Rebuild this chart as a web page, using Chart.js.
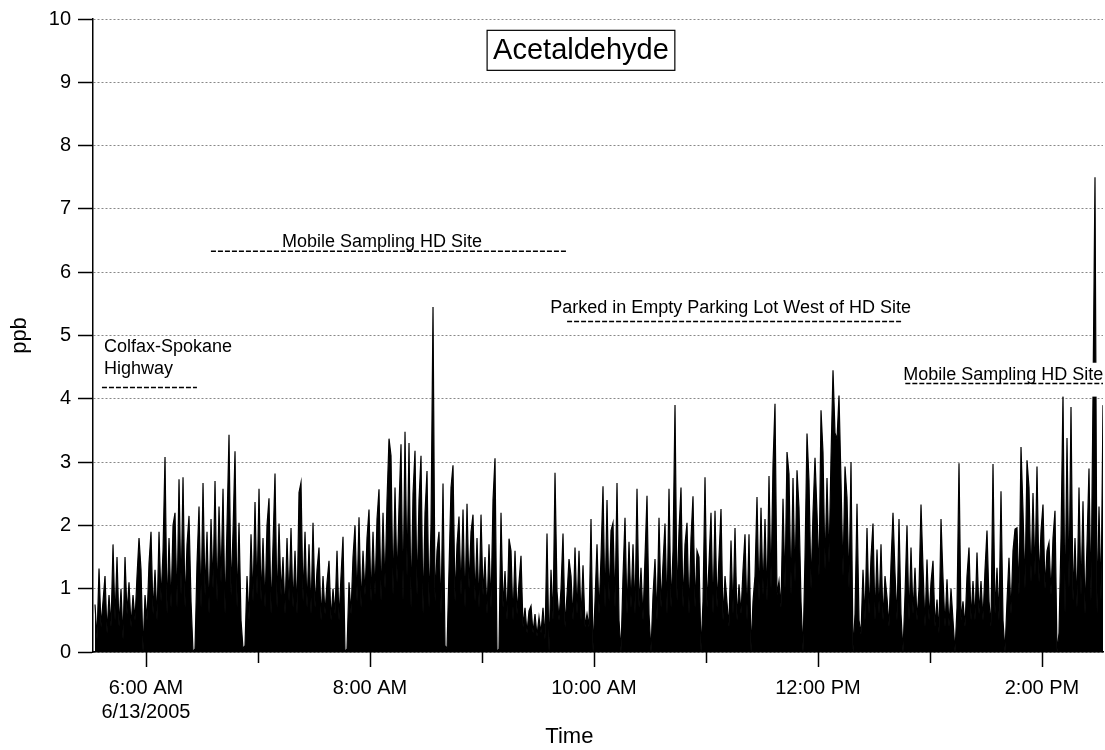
<!DOCTYPE html>
<html>
<head>
<meta charset="utf-8">
<script src="https://cdn.jsdelivr.net/npm/chart.js@4/dist/chart.umd.min.js"></script>
<style>
html, body { margin: 0; padding: 0; background: #fff; }
#wrap { width: 1105px; height: 750px; }
</style>
</head>
<body>
<div id="wrap"><canvas id="chart" width="1105" height="750"></canvas></div>
<script>
// sampling: first point ~5:32 AM, one reading about every 64 s
var startHour = 5.545;
var stepHours = 1 / 56;

// acetaldehyde, ppb
var ppb = [
    0.75,0.2,1.32,0.4,0.8,1.2,0.3,0.9,0.4,1.7,
    0.5,1.5,0.4,1.0,0.2,1.5,0.6,1.1,0.4,0.9,
    0.5,1.2,1.8,1.3,0.0,0.9,0.5,1.4,1.9,0.6,
    1.3,0.5,1.9,0.8,1.6,3.08,0.6,1.8,0.7,2.0,
    2.2,0.7,2.73,0.9,2.76,0.7,1.7,2.15,0.8,0.0,
    0.05,1.4,2.3,0.7,2.67,0.9,1.9,0.6,2.1,1.0,
    2.7,0.8,2.3,1.1,2.58,0.6,2.0,3.43,0.9,1.9,
    3.17,0.7,2.04,0.5,0.05,0.1,1.2,0.5,1.86,0.8,
    2.37,0.9,2.58,0.8,1.8,0.7,2.0,2.43,0.6,1.7,
    2.82,0.7,2.03,0.9,1.5,0.6,1.8,0.8,1.96,0.7,
    1.6,0.6,2.52,2.68,0.8,1.9,0.7,1.7,0.6,2.04,
    0.7,1.3,1.65,0.5,1.2,0.6,1.1,1.44,0.5,1.0,
    0.6,1.6,0.5,1.2,1.82,0.0,0.05,1.1,0.6,1.5,
    2.0,0.8,2.13,0.7,1.6,0.9,1.8,2.25,0.8,1.9,
    0.9,2.1,2.57,0.8,2.2,1.0,2.4,3.37,3.1,0.9,
    2.6,1.1,2.3,3.28,0.8,3.48,1.2,3.3,0.7,2.5,
    3.18,0.9,2.4,3.1,0.6,2.2,2.86,0.7,2.0,5.45,
    0.8,1.6,1.9,0.6,2.66,0.1,0.05,1.3,2.6,2.95,
    0.8,1.7,2.14,0.9,2.25,0.7,2.34,1.0,1.9,2.17,
    0.8,1.8,0.7,2.17,0.9,1.5,0.6,1.7,0.7,2.4,
    3.06,0.0,0.05,2.2,0.7,1.28,0.5,1.79,1.6,0.5,
    1.6,0.6,1.1,1.52,0.4,0.7,0.3,0.65,0.73,0.3,
    0.6,0.25,0.55,0.3,0.7,0.2,1.87,0.0,1.3,0.5,
    2.83,0.96,0.5,1.0,1.87,0.4,0.9,1.47,1.2,0.5,
    1.65,0.6,1.6,0.5,1.37,0.4,0.6,0.4,2.1,0.0,
    0.8,1.7,0.6,1.5,2.62,0.7,2.4,0.8,1.92,2.04,
    0.7,2.67,0.5,0.0,1.2,2.12,0.6,1.74,0.7,1.7,
    0.6,2.58,0.7,1.33,0.5,1.5,2.47,0.6,0.0,0.9,
    1.47,0.5,2.12,0.7,1.4,2.03,0.6,2.58,0.7,1.6,
    3.9,0.8,1.92,2.6,0.7,1.7,2.04,0.6,1.8,2.46,
    0.7,1.6,1.5,0.0,0.8,2.76,0.7,1.4,2.2,0.6,
    2.23,0.7,1.5,2.26,0.5,1.2,0.78,0.4,1.76,0.6,
    1.96,0.5,1.07,0.6,1.3,1.86,0.5,1.86,0.0,0.8,
    1.2,2.45,0.8,2.28,0.9,2.1,0.8,2.78,1.0,2.96,
    3.92,0.9,1.12,0.7,2.42,1.0,3.16,2.81,0.9,2.75,
    1.1,2.87,2.28,0.8,0.0,1.5,3.45,2.7,1.0,2.2,
    3.07,2.2,1.2,3.82,3.15,1.3,2.75,1.4,3.07,4.45,
    3.46,3.36,4.05,2.7,1.2,2.93,2.44,1.0,3.0,0.0,
    0.6,2.34,0.5,0.28,1.3,0.5,1.96,0.6,1.5,2.03,
    0.5,1.62,0.6,1.7,0.5,1.2,0.86,0.4,1.4,2.2,
    1.25,0.5,2.1,0.6,0.0,0.9,2.0,0.5,1.65,0.6,
    1.33,0.5,1.0,2.33,1.33,0.4,1.46,0.5,1.1,1.44,
    0.4,0.83,0.3,2.1,1.17,0.4,1.15,0.4,1.0,0.5,
    0.0,0.7,2.98,0.5,0.8,0.4,1.2,1.65,0.5,1.12,
    0.5,1.57,0.6,1.12,0.5,1.3,1.92,0.8,0.4,2.97,
    0.6,1.33,0.5,2.54,0.5,0.0,0.8,1.49,0.6,1.6,
    1.94,1.96,0.9,3.24,2.23,1.0,3.03,2.6,1.1,2.51,
    1.2,2.93,1.1,1.91,2.33,1.0,1.6,1.73,0.9,1.8,
    2.23,0.0,0.3,1.8,4.08,0.6,3.38,1.0,3.87,0.8,
    1.8,0.7,2.6,0.9,2.38,0.6,1.7,2.9,0.8,4.05,
    7.5,0.6,2.3,0.8,3.9
];

// x axis: hours of day
var hourTicks = [6, 7, 8, 9, 10, 11, 12, 13, 14];
var hourLabels = { 6: ['6:00 AM', '6/13/2005'], 8: '8:00 AM', 10: '10:00 AM', 12: '12:00 PM', 14: '2:00 PM' };
var ppbTicks = [0, 1, 2, 3, 4, 5, 6, 7, 8, 9, 10];

// text notes on the plot, placed in data units
var notes = [
    { lines: ['Colfax-Spokane', 'Highway'], x: 5.625, y: 4.81, align: 'left', from: 5.607, to: 6.455, dashY: 4.18 },
    { lines: ['Mobile Sampling HD Site'], x: 8.107, y: 6.48, align: 'center', from: 6.58, to: 9.75, dashY: 6.33 },
    { lines: ['Parked in Empty Parking Lot West of HD Site'], x: 11.22, y: 5.43, align: 'center', from: 9.76, to: 12.75, dashY: 5.22 },
    { lines: ['Mobile Sampling HD Site'], x: 13.655, y: 4.38, align: 'center', from: 12.78, to: 14.545, dashY: 4.24, erase: true }
];

var FONT = '"Liberation Sans", Arial, sans-serif';

var points = ppb.map(function(v, i) {
    return { x: startHour + i * stepHours, y: v };
});

var decor = {
    id: 'decor',
    afterDatasetsDraw: function(chart) {
        var ctx = chart.ctx;
        var xs = chart.scales.x, ys = chart.scales.y;
        var area = chart.chartArea;
        ctx.save();

        // hour ticks below the axis, longer on labelled hours
        ctx.strokeStyle = '#000';
        ctx.lineWidth = 1.5;
        hourTicks.forEach(function(h) {
            var px = Math.round(xs.getPixelForValue(h)) + 0.5;
            var len = h % 2 === 0 ? 15 : 11;
            ctx.beginPath();
            ctx.moveTo(px, area.bottom);
            ctx.lineTo(px, area.bottom + len);
            ctx.stroke();
        });

        // notes
        ctx.font = '18px ' + FONT;
        ctx.textBaseline = 'middle';
        notes.forEach(function(n) {
            var tx = xs.getPixelForValue(n.x);
            var ty = ys.getPixelForValue(n.y);
            var x1 = xs.getPixelForValue(n.from), x2 = xs.getPixelForValue(n.to);
            var dy = ys.getPixelForValue(n.dashY);
            if (n.erase) {
                ctx.fillStyle = '#fff';
                ctx.fillRect(x1 - 4, ty - 12, x2 - x1 + 4, dy - ty + 25);
            }
            ctx.fillStyle = '#000';
            ctx.textAlign = n.align;
            n.lines.forEach(function(t, k) {
                ctx.fillText(t, tx, ty + k * 22);
            });
            ctx.setLineDash([5, 2]);
            ctx.lineWidth = 1.5;
            ctx.beginPath();
            ctx.moveTo(x1, dy);
            ctx.lineTo(x2, dy);
            ctx.stroke();
            ctx.setLineDash([]);
        });

        // boxed title
        ctx.font = '29px ' + FONT;
        ctx.textAlign = 'center';
        var cx = xs.getPixelForValue(9.884), cy = ys.getPixelForValue(9.505);
        var w = ctx.measureText('Acetaldehyde').width + 12;
        ctx.fillStyle = '#fff';
        ctx.fillRect(cx - w / 2, cy - 20, w, 40);
        ctx.strokeStyle = '#000';
        ctx.lineWidth = 1.2;
        ctx.strokeRect(cx - w / 2, cy - 20, w, 40);
        ctx.fillStyle = '#000';
        ctx.fillText('Acetaldehyde', cx, cy + 1);

        // x axis title
        ctx.font = '22px ' + FONT;
        ctx.fillText('Time', xs.getPixelForValue(9.78), 737);
        ctx.restore();
    }
};

new Chart(document.getElementById('chart'), {
    type: 'line',
    data: {
        datasets: [{
            label: 'Acetaldehyde',
            data: points,
            borderColor: '#000',
            backgroundColor: '#000',
            borderWidth: 1.2,
            pointRadius: 0,
            tension: 0,
            fill: 'origin'
        }]
    },
    options: {
        responsive: false,
        animation: false,
        layout: { padding: { top: 17, right: 2, left: 0, bottom: 0 } },
        plugins: {
            legend: { display: false },
            tooltip: { enabled: false }
        },
        scales: {
            x: {
                type: 'linear',
                min: 5.527,
                max: 14.545,
                afterBuildTicks: function(s) {
                    s.ticks = hourTicks.map(function(h) { return { value: h }; });
                },
                afterFit: function(s) { s.height = 98; },
                ticks: {
                    autoSkip: false,
                    maxRotation: 0,
                    padding: 9,
                    color: '#000',
                    font: { family: FONT, size: 20 },
                    callback: function(v) { return hourLabels[v] || ''; }
                },
                grid: {
                    display: true,
                    drawOnChartArea: false,
                    drawTicks: true,
                    tickLength: 15,
                    tickColor: 'rgba(0,0,0,0)'
                },
                border: { display: true, color: '#000', width: 1.5 }
            },
            y: {
                min: 0,
                max: 10,
                afterBuildTicks: function(s) {
                    s.ticks = ppbTicks.map(function(v) { return { value: v }; });
                },
                afterFit: function(s) { s.width = 93; },
                ticks: {
                    padding: 7,
                    color: '#000',
                    font: { family: FONT, size: 20 }
                },
                grid: {
                    color: '#888',
                    lineWidth: 1,
                    tickLength: 15,
                    tickColor: '#000',
                    tickWidth: 1.5
                },
                border: { display: true, color: '#000', width: 1.5, dash: [2, 2] },
                title: {
                    display: true,
                    text: 'ppb',
                    color: '#000',
                    font: { family: FONT, size: 22 },
                    padding: { top: 7, bottom: 0 }
                }
            }
        }
    },
    plugins: [decor]
});
</script>
</body>
</html>
